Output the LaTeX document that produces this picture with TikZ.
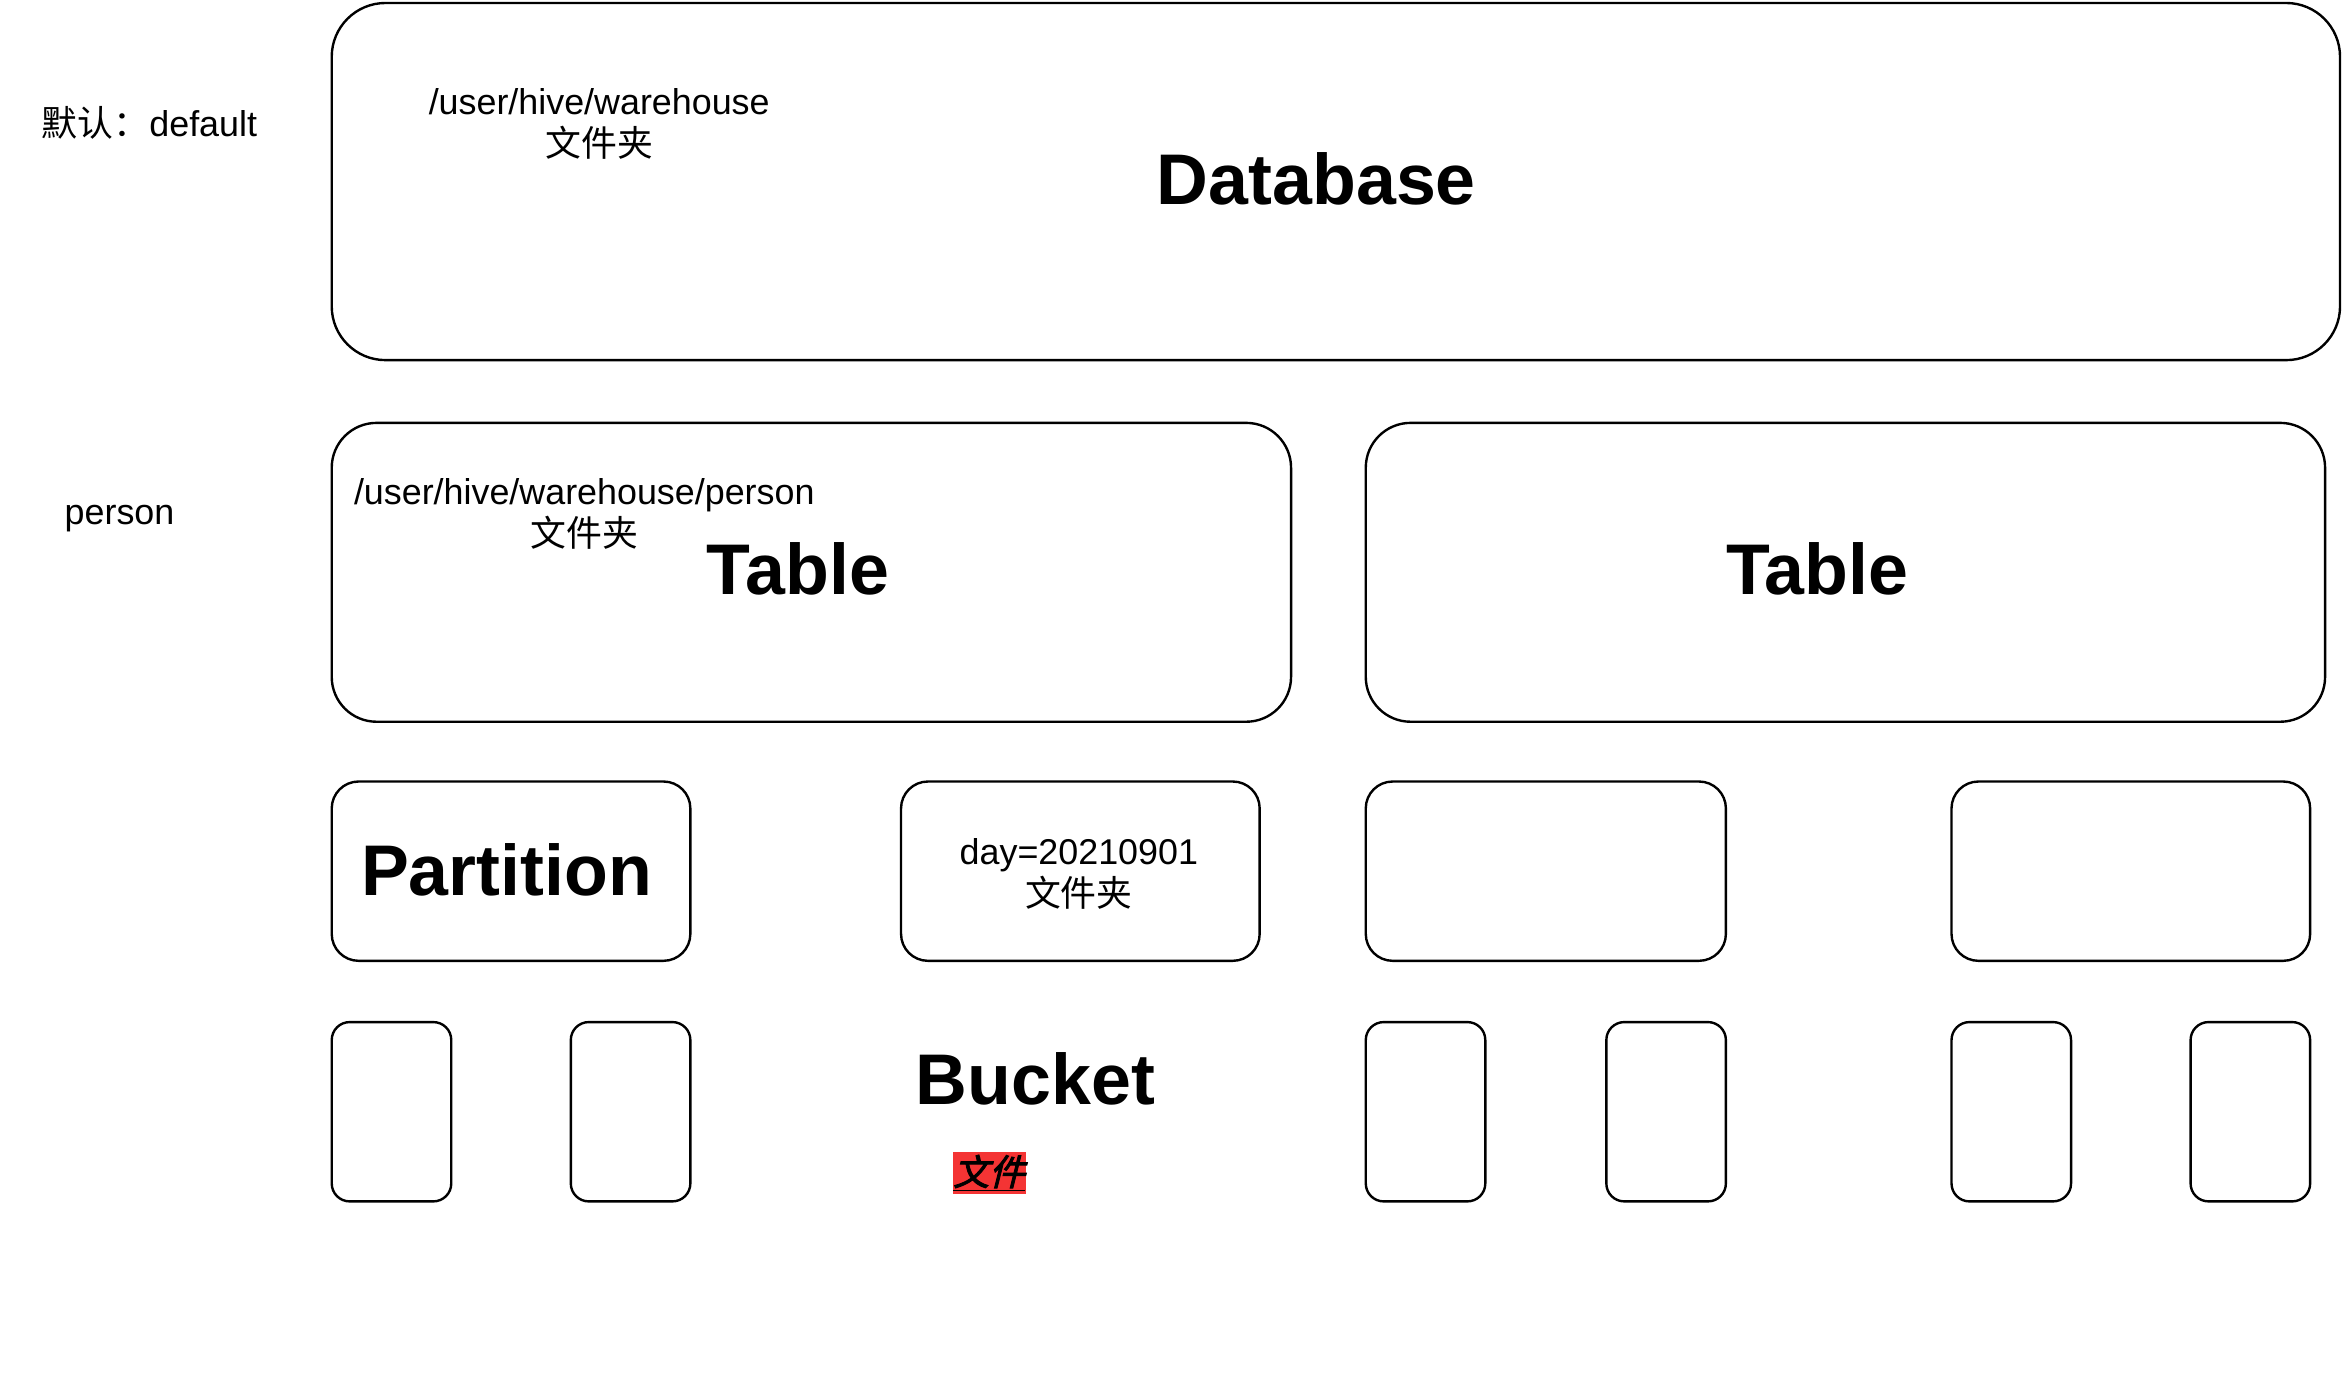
\documentclass[tikz,border=0pt]{standalone}
\usepackage{fontspec}
\setmainfont{Liberation Sans}
\newfontfamily\cjk{Noto Sans CJK SC}
\newfontfamily\cjkemph[FakeSlant=0.25,FakeBold=2.5]{Noto Sans CJK SC}
\definecolor{hlred}{RGB}{244,52,52}
\begin{document}
\begin{tikzpicture}[x=1pt,y=-1pt,
  box/.style={draw=black,line width=1.6pt,rounded corners=#1,inner sep=0pt,fill=white},
  small/.style={font=\fontsize{24}{28}\selectfont,align=center,inner sep=0pt},
  big/.style={font=\fontsize{48}{56}\selectfont\bfseries,inner sep=0pt}]
\useasboundingbox (0,0) rectangle (1568,926);
% boxes
\node[box=36pt,minimum width=1344pt,minimum height=239pt] (db) at (894,121.5) {};
\node[box=30pt,minimum width=642pt,minimum height=200pt] (tab1) at (543,383) {};
\node[box=30pt,minimum width=642pt,minimum height=200pt] (tab2) at (1235,383) {};
\node[box=18pt,minimum width=240pt,minimum height=120pt] (part1) at (342,583) {};
\node[box=18pt,minimum width=240pt,minimum height=120pt] (part2) at (723,583) {};
\node[box=18pt,minimum width=241pt,minimum height=120pt] (part3) at (1034.5,583) {};
\node[box=18pt,minimum width=240pt,minimum height=120pt] (part4) at (1426,583) {};
\foreach \n/\x in {b1/262,b2/422,b3/954,b4/1115,b5/1346,b6/1506}
  \node[box=12pt,minimum width=80pt,minimum height=120pt] (\n) at (\x,744) {};
% texts
\node[small] (tdefault) at (100,82) {{\cjk 默认：}default};
\node[small] (dbpath) at (401,83) {/user/hive/warehouse\\{\cjk 文件夹}};
\node[big] (dbtitle) at (881,120) {Database};
\node[small] (tperson) at (80,347) {person};
\node[small] (tab1path) at (391,344) {/user/hive/warehouse/person\\{\cjk 文件夹}};
\node[big] (tab1title) at (534,381) {Table};
\node[big] (tab2title) at (1216,381) {Table};
\node[big] (parttitle) at (339,582) {Partition};
\node[small] (daytxt) at (722,585) {day=20210901\\{\cjk 文件夹}};
\node[big] (buckettitle) at (693,722) {Bucket};
\node[fill=hlred,inner sep=0pt,minimum width=49pt,minimum height=28pt,font=\fontsize{24}{28}\selectfont] (filetxt) at (662,785) {\underline{\cjkemph 文件}};
\end{tikzpicture}
\end{document}
